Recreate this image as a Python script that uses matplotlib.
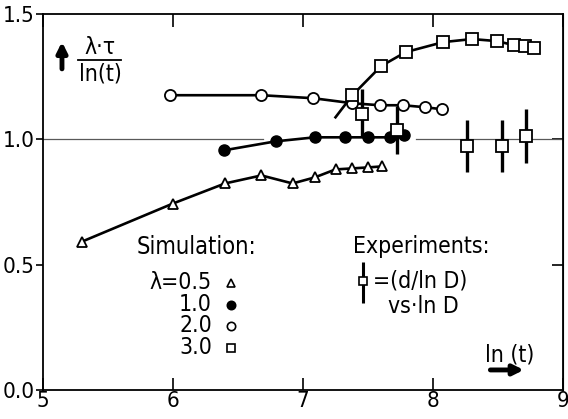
import numpy as np
import matplotlib.pyplot as plt

# simulation, lambda = 0.5 (triangles)
x05 = [5.30, 6.00, 6.40, 6.68, 6.92, 7.09, 7.25, 7.38, 7.50, 7.61]
y05 = [0.592, 0.744, 0.824, 0.856, 0.824, 0.848, 0.880, 0.884, 0.888, 0.892]
# lambda = 1.0 (filled circles)
x10 = [6.39, 6.79, 7.09, 7.32, 7.50, 7.67, 7.78]
y10 = [0.956, 0.992, 1.008, 1.008, 1.008, 1.008, 1.016]
# lambda = 2.0 (open circles)
x20 = [5.98, 6.68, 7.08, 7.38, 7.59, 7.77, 7.94, 8.07]
y20 = [1.176, 1.176, 1.164, 1.144, 1.136, 1.136, 1.128, 1.120]
# lambda = 3.0 (open squares), curve starts below first point
x30 = [7.38, 7.60, 7.79, 8.08, 8.30, 8.49, 8.62, 8.71, 8.78]
y30 = [1.176, 1.292, 1.348, 1.388, 1.400, 1.392, 1.376, 1.372, 1.364]
x30_start, y30_start = 7.25, 1.088
# experiments with error bars
xexp = [7.45, 7.72, 8.26, 8.53, 8.715]
yexp = [1.100, 1.036, 0.972, 0.972, 1.012]
ylo = [1.008, 0.940, 0.868, 0.868, 0.904]
yhi = [1.200, 1.132, 1.076, 1.076, 1.120]

plt.rcParams['font.family'] = 'DejaVu Sans'
plt.rcParams['font.stretch'] = 'condensed'
fig = plt.figure(figsize=(5.68, 4.19), dpi=100)
ax = fig.add_axes([43/568, 29/419, 520/568, 376/419])

lw = 1.9
# reference line at 1.0 with a gap
ax.plot([5, 6.69], [1, 1], color='0.35', lw=0.9, zorder=1)
ax.plot([7.87, 9], [1, 1], color='0.35', lw=0.9, zorder=1)

ax.plot(x05, y05, 'k-', lw=lw, marker='^', ms=7.5, mfc='white', mec='k', mew=1.3)
ax.plot(x10, y10, 'k-', lw=lw, marker='o', ms=8, mfc='k', mec='k')
ax.plot(x20, y20, 'k-', lw=lw, marker='o', ms=8, mfc='white', mec='k', mew=1.3)
ax.plot([x30_start] + x30[:1], [y30_start] + y30[:1], 'k-', lw=lw)
ax.plot(x30, y30, 'k-', lw=lw, marker='s', ms=8.5, mfc='white', mec='k', mew=1.3)

yerr = [np.array(yexp) - np.array(ylo), np.array(yhi) - np.array(yexp)]
ax.errorbar(xexp, yexp, yerr=yerr, fmt='s', ms=8.5, mfc='white', mec='k', mew=1.3,
            ecolor='k', elinewidth=2.4, capsize=0, zorder=5)

ax.set_xlim(5, 9)
ax.set_ylim(0, 1.5)
ax.set_xticks([5, 6, 7, 8, 9])
ax.set_yticks([0.0, 0.5, 1.0, 1.5])
ax.set_yticklabels(['0.0', '0.5', '1.0', '1.5'])
ax.tick_params(axis='x', direction='in', top=True, length=9, width=1.2, labelsize=16, pad=1)
ax.tick_params(axis='y', direction='out', length=5, width=1.2, labelsize=16, pad=1)
sec = ax.secondary_yaxis('right')
sec.set_yticks([0.5, 1.0])
sec.tick_params(direction='in', length=8, width=1.2, labelright=False)
for s in ax.spines.values():
    s.set_linewidth(1.3)

fs = 16.5
ax.text(5.723, 0.572, 'Simulation:', fontsize=fs + 0.5, va='center', ha='left')
rows = [('λ=0.5', 0.428, '^', 'white'), ('1.0', 0.34, 'o', 'k'),
        ('2.0', 0.256, 'o', 'white'), ('3.0', 0.168, 's', 'white')]
for lab, yy, m, fc in rows:
    ax.text(6.30, yy, lab, fontsize=fs, va='center', ha='right')
    ax.plot([6.446], [yy], marker=m, ms=6, mfc=fc, mec='k', mew=1.2, ls='none')

ax.text(7.385, 0.572, 'Experiments:', fontsize=fs, va='center', ha='left')
ax.errorbar([7.46], [0.436], yerr=[[0.088], [0.076]], fmt='s', ms=6, mfc='white',
            mec='k', mew=1.2, ecolor='k', elinewidth=2.2, capsize=0)
ax.text(7.535, 0.436, '=(d/ln D)', fontsize=fs, va='center', ha='left')
ax.text(7.654, 0.332, 'vs·ln D', fontsize=fs, va='center', ha='left')

# x axis label with arrow
ax.text(8.40, 0.14, 'ln (t)', fontsize=fs, va='center', ha='left')
ax.annotate('', xy=(8.72, 0.08), xytext=(8.42, 0.08),
            arrowprops=dict(arrowstyle='-|>,head_length=0.6,head_width=0.3', lw=3.5, color='k'))

# y axis label with arrow
ax.annotate('', xy=(5.146, 1.40), xytext=(5.146, 1.27),
            arrowprops=dict(arrowstyle='-|>,head_length=0.6,head_width=0.3', lw=3.5, color='k'))
ax.text(5.438, 1.366, 'λ·τ', fontsize=fs, va='center', ha='center')
ax.plot([5.27, 5.60], [1.316, 1.316], 'k-', lw=1.3)
ax.text(5.438, 1.262, 'ln(t)', fontsize=fs, va='center', ha='center')

plt.savefig('out.png', dpi=100)
